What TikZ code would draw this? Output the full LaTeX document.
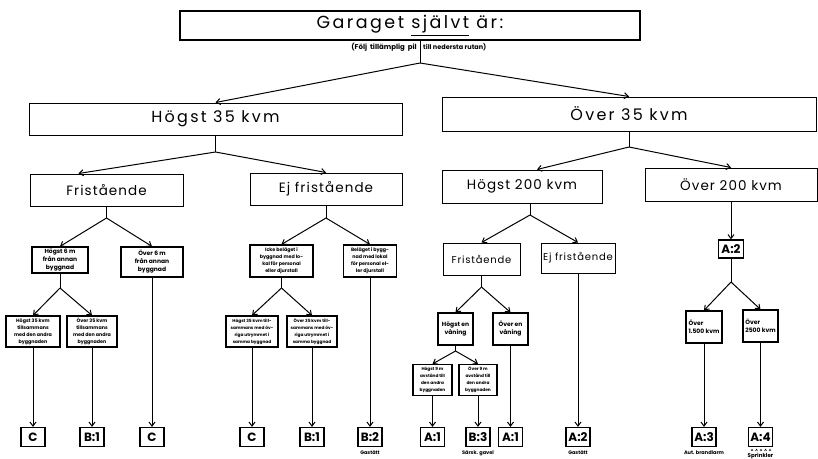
\documentclass[tikz,border=0pt]{standalone}
\usepackage{fontspec}
\setmainfont{Poppins}
\newfontfamily\widefont[LetterSpace=8]{Poppins}
\newfontfamily\widerfont[LetterSpace=14]{Poppins}
\usetikzlibrary{arrows.meta}
\begin{document}
\begin{tikzpicture}[x=1pt,y=-1pt,
  box/.style={draw, line width=1pt, inner sep=0pt, align=center},
  lvlA/.style={box, font=\widerfont\fontsize{16}{18}\selectfont},
  lvlB/.style={box, font=\widefont\fontsize{13.5}{15}\selectfont},
  lvlC/.style={box, font=\widefont\fontsize{10}{12}\selectfont},
  sm/.style={box, line width=1.2pt, font=\bfseries\fontsize{6}{8}\selectfont},
  tn/.style={box, line width=1.2pt, font=\bfseries\fontsize{4.8}{7}\selectfont},
  fin/.style={box, line width=1.3pt, font=\bfseries\fontsize{12}{13}\selectfont, minimum width=24pt, minimum height=19pt},
  lbl/.style={inner sep=0pt, font=\bfseries\fontsize{5}{6}\selectfont},
  ln/.style={line width=1pt},
  arr/.style={line width=1pt, -{Straight Barb[length=4pt,width=6pt]}}
]
\useasboundingbox (0,0) rectangle (818,458);
\fill[white] (0,0) rectangle (818,458);

% title
\node[box, line width=1.4pt, minimum width=460pt, minimum height=29pt,
      font=\widerfont\fontsize{17.5}{19}\selectfont] (title) at (410,25.5) {Garaget \underline{självt} är:};
\node[inner sep=0pt, anchor=east, font=\bfseries\fontsize{7}{8}\selectfont] (subL) at (417,47.5) {(Följ\ \ tillämplig\ \ pil};
\node[inner sep=0pt, anchor=west, font=\bfseries\fontsize{6.5}{8}\selectfont] (subR) at (423,47.5) {till nedersta rutan)};
\coordinate (b0) at (420,63);

% level 1
\node[lvlA, minimum width=373pt, minimum height=32pt] (h35) at (215.5,119) {Högst 35 kvm};
\node[lvlA, minimum width=374pt, minimum height=34pt] (o35) at (629,114) {Över 35 kvm};
\draw[ln] (b0 |- title.south) -- (b0);
\draw[arr] (b0) -- (h35.north);
\draw[arr] (b0) -- (o35.north);

% level 2
\coordinate (b1) at (215.5,152);
\coordinate (b2) at (629,147);
\node[lvlB, minimum width=153pt, minimum height=32pt] (fri1) at (106.5,190) {Fristående};
\node[lvlB, minimum width=152pt, minimum height=32pt] (ejf1) at (326,189) {Ej fristående};
\node[lvlB, minimum width=160pt, minimum height=33pt] (h200) at (522,186.5) {Högst 200 kvm};
\node[lvlB, minimum width=172pt, minimum height=33pt] (o200) at (731,184.5) {Över 200 kvm};
\draw[ln] (h35.south) -- (b1);
\draw[arr] (b1) -- ([xshift=-28pt]fri1.north);
\draw[arr] (b1) -- (ejf1.north);
\draw[ln] (o35.south) -- (b2);
\draw[arr] (b2) -- ([xshift=15pt]h200.north);
\draw[arr] (b2) -- (o200.north);

% level 3
\coordinate (b3) at (106.5,218);
\coordinate (b4) at (326,218);
\coordinate (b5) at (530,215);
\node[sm, minimum width=56pt, minimum height=26pt] (h6) at (60,260) {Högst 6 m\\från annan\\byggnad};
\node[sm, minimum width=62pt, minimum height=30pt] (o6) at (152,262) {Över 6 m\\från annan\\byggnad};
\node[tn, minimum width=63pt, minimum height=32pt] (icke) at (281.5,261) {Icke beläget i\\byggnad med lo-\\kal för personal\\eller djurstall};
\node[tn, minimum width=53pt, minimum height=32pt] (bel) at (370,261) {Beläget i bygg-\\nad med lokal\\för personal el-\\ler djurstall};
\node[lvlC, minimum width=77pt, minimum height=32pt] (fri2) at (481.5,259) {Fristående};
\node[lvlC, minimum width=74pt, minimum height=30pt] (ejf2) at (578,258) {Ej fristående};
\node[fin, minimum width=25pt, minimum height=18pt] (A2b) at (731,249) {A:2};
\draw[ln] (fri1.south) -- (b3);
\draw[arr] (b3) -- (h6.north);
\draw[arr] (b3) -- (o6.north);
\draw[ln] (ejf1.south) -- (b4);
\draw[arr] (b4) -- (icke.north);
\draw[arr] (b4) -- (bel.north);
\draw[ln] (b5 |- h200.south) -- (b5);
\draw[arr] (b5) -- (fri2.north);
\draw[arr] (b5) -- (ejf2.north);
\draw[arr] (A2b |- o200.south) -- (A2b.north);

% level 4
\coordinate (b6) at (60,288);
\coordinate (b7) at (281.5,288);
\coordinate (b8) at (481.5,287);
\coordinate (b10) at (731,282);
\node[tn, minimum width=54pt, minimum height=31pt] (h35t) at (33,331.5) {Högst 35 kvm\\tillsammans\\med den andra\\byggnaden};
\node[tn, minimum width=50pt, minimum height=31pt] (o35t) at (92,331.5) {Över 35 kvm\\tillsammans\\med den andra\\byggnaden};
\node[tn, font=\bfseries\fontsize{4.3}{7}\selectfont, minimum width=52pt, minimum height=31pt] (h35s) at (252,331.5) {Högst 35 kvm till-\\sammans med öv-\\riga utrymmet i\\samma byggnad};
\node[tn, font=\bfseries\fontsize{4.3}{7}\selectfont, minimum width=50pt, minimum height=31pt] (o35s) at (312,331.5) {Över 35 kvm till-\\sammans med öv-\\riga utrymmet i\\samma byggnad};
\node[sm, minimum width=35pt, minimum height=32pt] (hen) at (455.5,329) {Högst en\\våning};
\node[sm, minimum width=35pt, minimum height=32pt] (oen) at (510.5,329) {Över en\\våning};
\node[sm, align=left, minimum width=36pt, minimum height=32pt] (o1500) at (704,327) {Över\\1.500 kvm};
\node[sm, align=left, minimum width=35pt, minimum height=32pt] (o2500) at (760.5,326) {Över\\2500 kvm};
\draw[ln] (h6.south) -- (b6);
\draw[arr] (b6) -- (h35t.north);
\draw[arr] (b6) -- (o35t.north);
\draw[ln] (icke.south) -- (b7);
\draw[arr] (b7) -- (h35s.north);
\draw[arr] (b7) -- (o35s.north);
\draw[ln] (fri2.south) -- (b8);
\draw[arr] (b8) -- (hen.north);
\draw[arr] (b8) -- (oen.north);
\draw[ln] (A2b.south) -- (b10);
\draw[arr] (b10) -- (o1500.north);
\draw[arr] (b10) -- (o2500.north);

% level 5
\coordinate (b9) at (455.5,351);
\node[tn, font=\bfseries\fontsize{4.3}{7}\selectfont, minimum width=39pt, minimum height=31pt] (h9) at (432.5,380) {Högst 9 m\\avstånd till\\den andra\\byggnaden};
\node[tn, font=\bfseries\fontsize{4.3}{7}\selectfont, minimum width=38pt, minimum height=31pt] (o9) at (478,380) {Över 9 m\\avstånd till\\den andra\\byggnaden};
\draw[ln] (hen.south) -- (b9);
\draw[arr] (b9) -- (h9.north);
\draw[arr] (b9) -- (o9.north);

% bottom row
\node[fin] (C1) at (33,437) {C};
\node[fin] (B1a) at (92,437) {B:1};
\node[fin] (C2) at (152,437) {C};
\node[fin] (C3) at (252,437) {C};
\node[fin] (B1b) at (312,437) {B:1};
\node[fin] (B2) at (370,437) {B:2};
\node[fin] (A1a) at (432.5,437) {A:1};
\node[fin] (B3) at (478,437) {B:3};
\node[fin] (A1b) at (510.5,437) {A:1};
\node[fin] (A2a) at (578,437) {A:2};
\node[fin] (A3) at (704,437) {A:3};
\node[fin] (A4) at (760.5,437) {A:4};
\draw[arr] (C1 |- h35t.south) -- (C1.north);
\draw[arr] (B1a |- o35t.south) -- (B1a.north);
\draw[arr] (C2 |- o6.south) -- (C2.north);
\draw[arr] (C3 |- h35s.south) -- (C3.north);
\draw[arr] (B1b |- o35s.south) -- (B1b.north);
\draw[arr] (B2 |- bel.south) -- (B2.north);
\draw[arr] (A1a |- h9.south) -- (A1a.north);
\draw[arr] (B3 |- o9.south) -- (B3.north);
\draw[arr] (A1b |- oen.south) -- (A1b.north);
\draw[arr] (A2a |- ejf2.south) -- (A2a.north);
\draw[arr] (A3 |- o1500.south) -- (A3.north);
\draw[arr] (A4 |- o2500.south) -- (A4.north);

% labels
\node[lbl, anchor=north] (lB2) at ([yshift=-3pt]B2.south) {Gastätt};
\node[lbl, anchor=north] (lB3) at ([yshift=-3pt]B3.south) {Särsk. gavel};
\node[lbl, anchor=north] (lA2) at ([yshift=-3pt]A2a.south) {Gastätt};
\node[lbl, anchor=north] (lA3) at ([yshift=-3pt]A3.south) {Aut. brandlarm};
\node[lbl, anchor=north, font=\bfseries\fontsize{5.5}{6}\selectfont] (lA4) at ([yshift=-5.5pt]A4.south) {Sprinkler};
\foreach \i in {0,...,4}
  \draw[line width=0.5pt] ([xshift={-9.5pt+\i*4.5pt}, yshift=-3.8pt]A4.south) -- ++(1pt,1.8pt) -- ++(1pt,-1.8pt);
\end{tikzpicture}
\end{document}
